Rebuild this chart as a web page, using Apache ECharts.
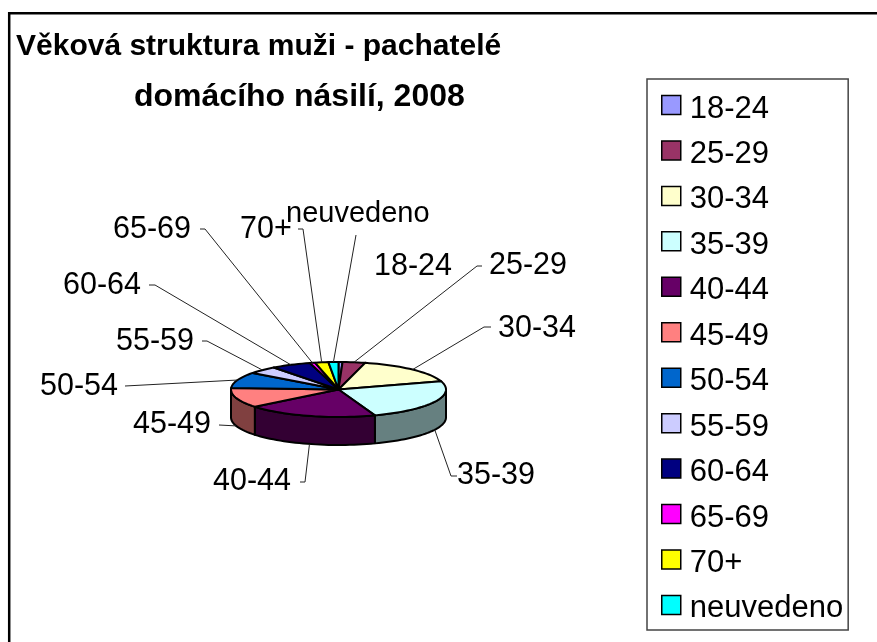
<!DOCTYPE html>
<html>
<head>
<meta charset="utf-8">
<style>
  html, body { margin: 0; padding: 0; background: #fff; }
  #chart { width: 877px; height: 642px; }
</style>
<script src="https://cdn.jsdelivr.net/npm/echarts@6/dist/echarts.min.js"></script>
</head>
<body>
<div id="chart"></div>
<script>
// hodnoty odhadnute z obrazku (%)
const categories = ["18-24", "25-29", "30-34", "35-39", "40-44", "45-49", "50-54", "55-59", "60-64", "65-69", "70+", "neuvedeno"];
const shares = [0.6, 3.4, 16.2, 24.3, 19.7, 11.7, 9.4, 4.4, 6.0, 0.8, 2.0, 1.5];
const topColors = ["#9999FF", "#993366", "#FFFFCC", "#CCFFFF", "#660066", "#FF8080", "#0066CC", "#CCCCFF", "#000080", "#FF00FF", "#FFFF00", "#00FFFF"];
const sideColors = ["#4D4D80", "#4D1A33", "#808066", "#668080", "#330033", "#804040", "#003366", "#666680", "#000040", "#800080", "#808000", "#008080"];

// pie geometry and label placement (pixels)
const pie = { cx: 338.5, cy: 389.5, rx: 107.5, ry: 27.5, depth: 28 };
// [text x, text y, font size, elbow x, elbow y, leader end x]
const labelLayout = [
  [374, 267, 30.5, null, null, null],
  [489, 266, 30.5, 477, 266, 482],
  [498, 329, 30.5, 484, 327, 491],
  [457, 476, 30.5, 451, 476, 457],
  [213, 482, 30.5, 305, 482, 300],
  [133, 425, 30.5, 219, 425, 219],
  [40, 387, 30.5, 125, 386, 125],
  [116, 342, 30.5, 207, 341, 202],
  [63, 286, 30.5, 155, 285, 149],
  [113, 230, 30.5, 205, 229, 200],
  [240, 230, 30.5, 303, 229, 298],
  [286, 214, 29, 356, 235, 356]
];

const total = shares.reduce((a, b) => a + b, 0);
function startOf(i) {
  let s = 0;
  for (let k = 0; k < i; k++) s += shares[k];
  return s / total * Math.PI * 2;
}
function pt(a, dy) {
  return [pie.cx + pie.rx * Math.sin(a), pie.cy - pie.ry * Math.cos(a) + (dy || 0)];
}
function arc(a0, a1, dy) {
  const pts = [];
  const n = Math.max(2, Math.ceil((a1 - a0) / 0.04));
  for (let k = 0; k <= n; k++) pts.push(pt(a0 + (a1 - a0) * k / n, dy));
  return pts;
}

function renderSlice(i) {
  return function () {
    const a0 = startOf(i);
    const a1 = a0 + shares[i] / total * Math.PI * 2;
    const kids = [];
    // the visible wall is only the front half of the rim
    const w0 = Math.max(a0, Math.PI / 2);
    const w1 = Math.min(a1, Math.PI * 1.5);
    if (w1 > w0) {
      kids.push({
        type: "polygon",
        shape: { points: arc(w0, w1, 0).concat(arc(w0, w1, pie.depth).reverse()) },
        style: { fill: sideColors[i], stroke: "#000", lineWidth: 2, lineJoin: "round" }
      });
    }
    kids.push({
      type: "polygon",
      shape: { points: [[pie.cx, pie.cy]].concat(arc(a0, a1, 0)) },
      style: { fill: topColors[i], stroke: "#000", lineWidth: 2, lineJoin: "round" }
    });
    // leader line + label
    const mid = (a0 + a1) / 2;
    const from = mid > Math.PI / 2 && mid < Math.PI * 1.5 ? pt(mid, pie.depth) : pt(mid, 0);
    const l = labelLayout[i];
    if (l[3] !== null) {
      kids.push({
        type: "polyline",
        shape: { points: [from, [l[3], l[4]], [l[5], l[4]]] },
        style: { fill: null, stroke: "#222", lineWidth: 1 }
      });
    }
    kids.push({
      type: "text",
      style: {
        x: l[0], y: l[1], text: categories[i], fill: "#000",
        font: l[2] + "px 'Liberation Sans'", textAlign: "left", textVerticalAlign: "middle"
      }
    });
    return { type: "group", children: kids };
  };
}

const chart = echarts.init(document.getElementById("chart"));
chart.setOption({
  animation: false,
  title: [
    { text: "Věková struktura muži - pachatelé", left: 16, top: 32, padding: 0, textStyle: { fontFamily: "Liberation Sans", fontWeight: "bold", fontSize: 30, color: "#000" } },
    { text: "domácího násilí, 2008", left: 134, top: 81, padding: 0, textStyle: { fontFamily: "Liberation Sans", fontWeight: "bold", fontSize: 32, color: "#000" } }
  ],
  legend: {
    orient: "vertical",
    left: 647,
    top: 79,
    height: 540,
    padding: [14.5, 5, 5.5, 14],
    borderColor: "#444",
    borderWidth: 1.5,
    icon: "rect",
    itemWidth: 19,
    itemHeight: 19,
    itemGap: 14.45,
    data: categories,
    formatter: "{t|{name}}",
    itemStyle: { borderColor: "#000", borderWidth: 1.5 },
    textStyle: {
      fontFamily: "Liberation Sans", fontSize: 31, color: "#000",
      rich: { t: { fontFamily: "Liberation Sans", fontSize: 31, color: "#000", padding: [8, 0, 0, 4] } }
    }
  },
  series: categories.map((name, i) => ({
    type: "custom",
    name: name,
    coordinateSystem: "none",
    silent: true,
    itemStyle: { color: topColors[i] },
    data: [shares[i]],
    renderItem: renderSlice(i)
  })),
  graphic: [{
    type: "polyline",
    shape: { points: [[9.2, 642], [9.2, 13.2], [877, 13.2]] },
    style: { fill: null, stroke: "#000", lineWidth: 2.5 }
  }]
});
</script>
</body>
</html>
